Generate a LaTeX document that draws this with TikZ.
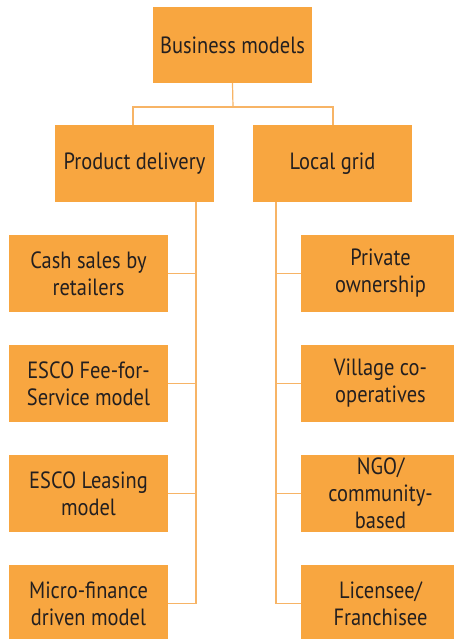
\documentclass[tikz,border=0pt]{standalone}
\usepackage{fontspec}
\setmainfont[FakeStretch=0.87]{PT Sans}
\definecolor{boxfill}{HTML}{F8A640}
\definecolor{linecol}{HTML}{F7B466}
\definecolor{txt}{HTML}{231F20}
\begin{document}
\begin{tikzpicture}[x=1pt,y=-1pt,
  box/.style={fill=boxfill,draw=none,text=txt,inner sep=0pt,align=center,
    font=\fontsize{23.5}{27}\selectfont},
  conn/.style={draw=linecol,line width=1.2pt}]
\useasboundingbox (0,0) rectangle (453,639);
% top
\node[box,minimum width=159pt,minimum height=76pt] (bm) at (232.5,45) {Business models};
\node[box,minimum width=159pt,minimum height=77pt] (pd) at (134.5,163.5) {Product delivery};
\node[box,minimum width=159pt,minimum height=77pt] (lg) at (332.5,163.5) {Local grid};
% left column
\node[box,minimum width=159pt,minimum height=77pt] (cs) at (88.5,273.5) {Cash sales by\\retailers};
\node[box,minimum width=159pt,minimum height=77pt] (ef) at (88.5,383.5) {ESCO Fee-for-\\Service model};
\node[box,minimum width=159pt,minimum height=77pt] (el) at (88.5,493.5) {ESCO Leasing\\model};
\node[box,minimum width=159pt,minimum height=77pt] (mf) at (88.5,603.5) {Micro-finance\\driven model};
% right column
\node[box,minimum width=159pt,minimum height=77pt] (po) at (380.5,273.5) {Private\\ownership};
\node[box,minimum width=159pt,minimum height=77pt] (vc) at (380.5,383.5) {Village co-\\operatives};
\node[box,minimum width=159pt,minimum height=77pt] (ngo) at (380.5,493.5) {NGO/\\community-\\based};
\node[box,minimum width=159pt,minimum height=77pt] (lf) at (380.5,603.5) {Licensee/\\Franchisee};
% connectors
\coordinate (hl) at (133,107);
\coordinate (hr) at (333,107);
\draw[conn] (bm.south) -- (233,107);
\draw[conn] (pd.north -| hl) -- (hl) -- (hr) -- (lg.north -| hr);
\coordinate (pdv) at (196,202);
\coordinate (lgv) at (276,202);
\draw[conn] (pdv) |- (mf.east);
\draw[conn] (pdv |- cs.east) -- (cs.east);
\draw[conn] (pdv |- ef.east) -- (ef.east);
\draw[conn] (pdv |- el.east) -- (el.east);
\draw[conn] (lgv) |- (lf.west);
\draw[conn] (lgv |- po.west) -- (po.west);
\draw[conn] (lgv |- vc.west) -- (vc.west);
\draw[conn] (lgv |- ngo.west) -- (ngo.west);
\end{tikzpicture}
\end{document}
